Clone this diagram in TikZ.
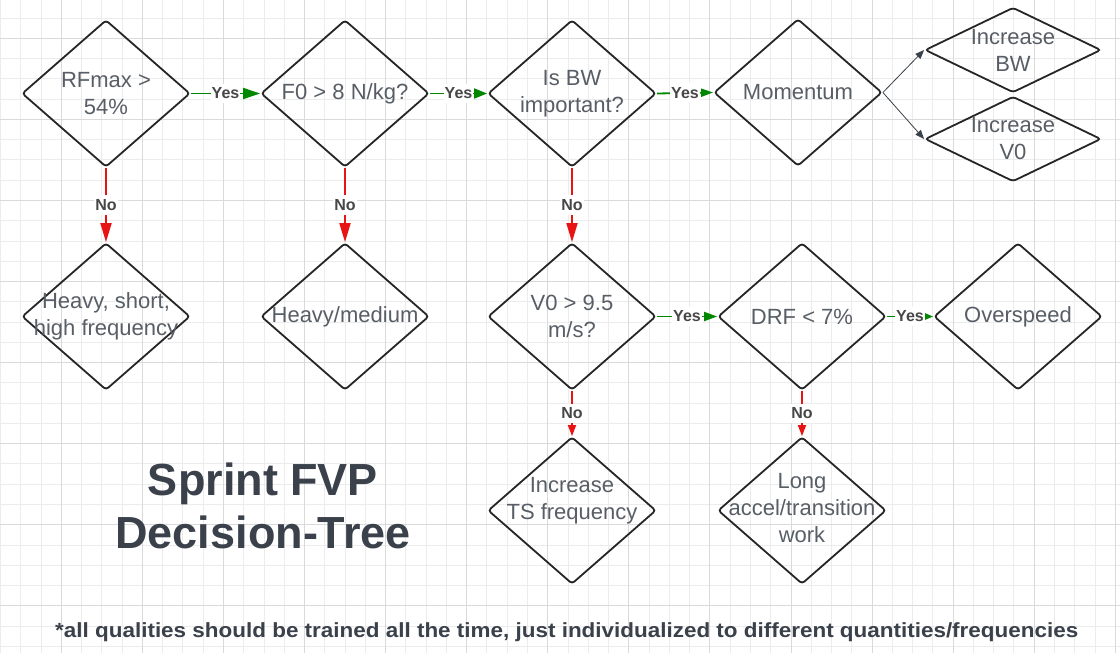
\documentclass[tikz,border=0pt]{standalone}
\usepackage{fontspec}
\setmainfont{Liberation Sans}
\usetikzlibrary{shapes.geometric,arrows.meta}
\definecolor{ink}{RGB}{58,65,75}
\definecolor{txtgray}{RGB}{88,94,102}
\definecolor{yesgreen}{RGB}{0,135,0}
\definecolor{nored}{RGB}{232,20,20}
\definecolor{gridminor}{RGB}{236,236,236}
\definecolor{gridmajor}{RGB}{218,218,218}

\begin{document}
\begin{tikzpicture}[x=1pt, y=-1pt,
    decision/.style={draw=black!85, diamond, line width=1.8pt, rounded corners=3pt,
                     inner sep=0pt, minimum width=168pt, minimum height=147pt},
    small/.style={minimum width=176pt, minimum height=85pt},
    every label/.style={align=center, text=txtgray, font=\fontsize{22}{27}\selectfont},
    yes/.style={draw=yesgreen, line width=1.8pt},
    no/.style={draw=nored, line width=1.8pt},
    answer/.style={fill=white, inner xsep=1pt, inner ysep=4pt, text=black!72,
                   font=\bfseries\fontsize{16}{16}\selectfont}]

\useasboundingbox (0,0) rectangle (1120,653);
\fill[white] (0,0) rectangle (1120,653);

% grid
\foreach \i in {0,...,55} \draw[gridminor] ({0.19+20.27*\i},0) -- ++(0,653);
\foreach \j in {0,...,31} \draw[gridminor] (0,{17.73+20.27*\j}) -- ++(1120,0);
\foreach \i in {0,...,13} \draw[gridmajor] ({61+81.08*\i},0) -- ++(0,653);
\foreach \j in {0,...,7} \draw[gridmajor] (0,{38+81.08*\j}) -- ++(1120,0);

% questions and answers
\node[decision, label={center:RFmax >\\54\%}] (rfmax) at (106,93.5) {};
\node[decision, label={center:F0 > 8 N/kg?}] (fzero) at (345,93.5) {};
\node[decision, label={center:Is BW\\important?}] (bwimp) at (572,93.5) {};
\node[decision, label={center:Momentum}] (momentum) at (798,92.5) {};
\node[decision, small, label={center:Increase\\BW}] (incbw) at (1013,50) {};
\node[decision, small, label={center:Increase\\V0}] (incvzero) at (1013,139) {};

\node[decision, label={center:Heavy, short,\\high frequency}] (heavyshort) at (106,316.5) {};
\node[decision, label={center:Heavy/medium}] (heavymed) at (345,316.5) {};
\node[decision, label={center:V0 > 9.5\\m/s?}] (vzero) at (572,316.5) {};
\node[decision, label={center:DRF < 7\%}] (drf) at (802,316.5) {};
\node[decision, label={center:Overspeed}] (overspeed) at (1018,316.5) {};

\node[decision, label={[yshift=10pt]center:Increase\\TS frequency}] (tsfreq) at (572,510.5) {};
\node[decision, label={[yshift=2pt]center:Long\\accel/transition\\work}] (longaccel) at (802,510.5) {};

% yes / no connectors
\foreach \a/\b/\len/\wid in {rfmax/fzero/17/11, fzero/bwimp/13/10, bwimp/momentum/12/8,
                             vzero/drf/13/9, drf/overspeed/9/7}
    \draw[yes, -{Triangle[length=\len pt, width=\wid pt]}]
        (\a.east) -- node[answer] {Yes} (\b.west);

\foreach \a/\b/\len/\wid in {rfmax/heavyshort/19/11, fzero/heavymed/19/11, bwimp/vzero/19/11,
                             vzero/tsfreq/11/8, drf/longaccel/11/8}
    \draw[no, -{Triangle[length=\len pt, width=\wid pt]}]
        (\a.south) -- node[answer] {No} (\b.north);

\draw[ink, line width=0.8pt, -{Triangle[length=9pt, width=7pt]}] (momentum.east) -- (incbw.west);
\draw[ink, line width=0.8pt, -{Triangle[length=9pt, width=7pt]}] (momentum.east) -- (incvzero.west);

% title and note
\node[align=center, text=ink, font=\bfseries\fontsize{45}{53}\selectfont] (title)
    at (263,506) {Sprint FVP\\Decision-Tree};
\node[anchor=base west, inner sep=0pt, text=ink] (note) at (55,637)
    {\resizebox{1023pt}{\height}{\bfseries\fontsize{20.5}{20.5}\selectfont
     *all qualities should be trained all the time, just individualized to different quantities/frequencies}};

\end{tikzpicture}
\end{document}
